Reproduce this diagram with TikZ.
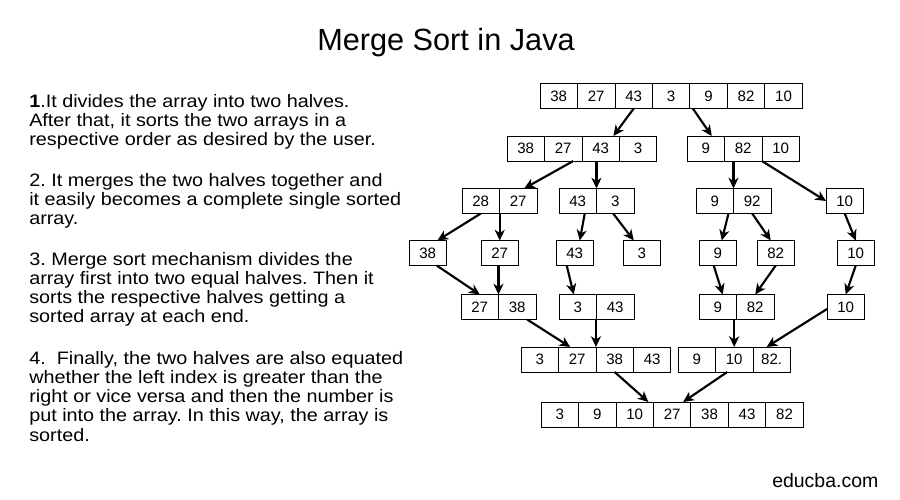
\documentclass[tikz,border=0pt]{standalone}
\usepackage{fontspec}
\setmainfont{Liberation Sans}
\newfontfamily\bodyfont{Liberation Sans}[FakeStretch=1.1]
\usetikzlibrary{positioning,calc,arrows.meta}
\lineskiplimit=-100pt
\frenchspacing

\tikzset{
  every node/.style={inner sep=0pt},
  % --- nodes
  cell/.style  = {draw, line width=0.6pt, outer sep=0pt, minimum width=28.1pt,
                  minimum height=18.8pt, font=\fontsize{11.3pt}{13pt}\selectfont},
  para/.style  = {anchor=north west, align=left,
                  font=\bodyfont\fontsize{13.5pt}{14.4pt}\selectfont},
  % --- edges
  e/.style     = {-{Stealth[length=8pt,width=7.5pt,inset=2.4pt]}, line width=1.6pt},
}

% one row of cells, chained left to right
\newcommand\cellrow[3]{%
  \foreach \v [count=\i] in {#3}{%
    \ifnum\i=1
      \node[cell, anchor=west] (#1-1) at (#2) {\v};
    \else
      \pgfmathtruncatemacro\k{\i-1}%
      \node[cell, right=0pt of #1-\k] (#1-\i) {\v};
    \fi}}

\begin{document}
\begin{tikzpicture}[x=0.75pt, y=-0.75pt]
  \useasboundingbox (0,0) rectangle (900,500);

  \node[anchor=base, font=\fontsize{23pt}{26pt}\selectfont] (title) at (446,50) {Merge Sort in Java};

  % --- text on the left
  \node[para] (p1) at (29,93.9) {\textbf{1}.It divides the array into two halves.\\
    After that, it sorts the two arrays in a\\respective order as desired by the user.};
  \node[para] (p2) at (29,172.9) {2. It merges the two halves together and\\
    it easily becomes a complete single sorted\\array.};
  \node[para] (p3) at (29,251.9) {3. Merge sort mechanism divides the\\
    array first into two equal halves. Then it\\sorts the respective halves getting a\\
    sorted array at each end.};
  \node[para] (p4) at (29,350.9) {4.\ \ Finally, the two halves are also equated\\
    whether the left index is greater than the\\right or vice versa and then the number is\\
    put into the array. In this way, the array is\\sorted.};

  % --- the tree of arrays
  \cellrow{a}{540,96}{38,27,43,3,9,82,10}
  \cellrow{b}{507,148.5}{38,27,43,3}
  \cellrow{c}{687,148.5}{9,82,10}
  \cellrow{d}{462,201}{28,27}
  \cellrow{e}{559,201}{43,3}
  \cellrow{f}{696,201}{9,92}
  \cellrow{g}{826,201}{10}
  \cellrow{h}{409,253}{38}
  \cellrow{i}{481,253}{27}
  \cellrow{j}{556,253}{43}
  \cellrow{k}{623,253}{3}
  \cellrow{l}{699,253}{9}
  \cellrow{m}{757,253}{82}
  \cellrow{n}{837,253}{10}
  \cellrow{o}{461,307}{27,38}
  \cellrow{p}{559,307}{3,43}
  \cellrow{q}{699,307}{9,82}
  \cellrow{r}{827,307}{10}
  \cellrow{s}{521,359.5}{3,27,38,43}
  \cellrow{t}{678,359.5}{9,10,82.}
  \cellrow{u}{541,414.5}{3,9,10,27,38,43,82}

  % --- splitting
  \draw[e] (a-3.south) -- ($(b-3.north east)+(-6,0)$);
  \draw[e] ($(a-5.south west)+(3,0)$) -- ($(c-1.north)+(6,0)$);
  \draw[e] ($(b-2.south)+(10,0)$) -- ($(d-2.north)+(6,0)$);
  \draw[e] (b-3.south -| e-1.north east) -- (e-1.north east);
  \draw[e] (c-1.south -| f-1.north east) -- (f-1.north east);
  \draw[e] (c-2.south east) -- (g-1.west);
  \draw[e] (d-1.south) -- ($(h-1.north east)+(-9,0)$);
  \draw[e] (d-1.south -| i-1.north) -- (i-1.north);
  \draw[e] ($(e-1.south)+(7,0)$) -- ($(j-1.north)+(5,0)$);
  \draw[e] ($(e-2.south)+(-2,0)$) -- ($(k-1.north)+(-8,0)$);
  \draw[e] ($(f-1.south east)+(-5,0)$) -- ($(l-1.north)+(4,0)$);
  \draw[e] (f-2.south) -- ($(m-1.north)+(-5,0)$);
  \draw[e] (g-1.south) -- (n-1.north);

  % --- merging
  \draw[e] ($(h-1.south)+(9,0)$) -- (o-1.north);
  \draw[e] (i-1.south -| o-1.north east) -- (o-1.north east);
  \draw[e] ($(j-1.south)+(-8,0)$) -- ($(p-1.north)+(-4,0)$);
  \draw[e] ($(l-1.south)+(-4,0)$) -- ($(q-1.north)+(5,0)$);
  \draw[e] (m-1.south) -- (q-2.north);
  \draw[e] (n-1.south) -- (r-1.north);
  \draw[e] ($(o-2.south)+(10,0)$) -- ($(s-2.north)+(-7,0)$);
  \draw[e] (p-1.south -| s-2.north east) -- (s-2.north east);
  \draw[e] (q-1.south -| t-2.north) -- (t-2.north);
  \draw[e] ($(r-1.west)+(0,2)$) -- ($(t-3.north)+(-5,0)$);
  \draw[e] (s-3.south) -- ($(u-3.north east)+(-5,0)$);
  \draw[e] ($(t-2.south)+(-7,0)$) -- ($(u-4.north)+(11,0)$);

  \node[anchor=base west, font=\fontsize{14.6pt}{17pt}\selectfont] (site) at (772,487) {educba.com};
\end{tikzpicture}
\end{document}
